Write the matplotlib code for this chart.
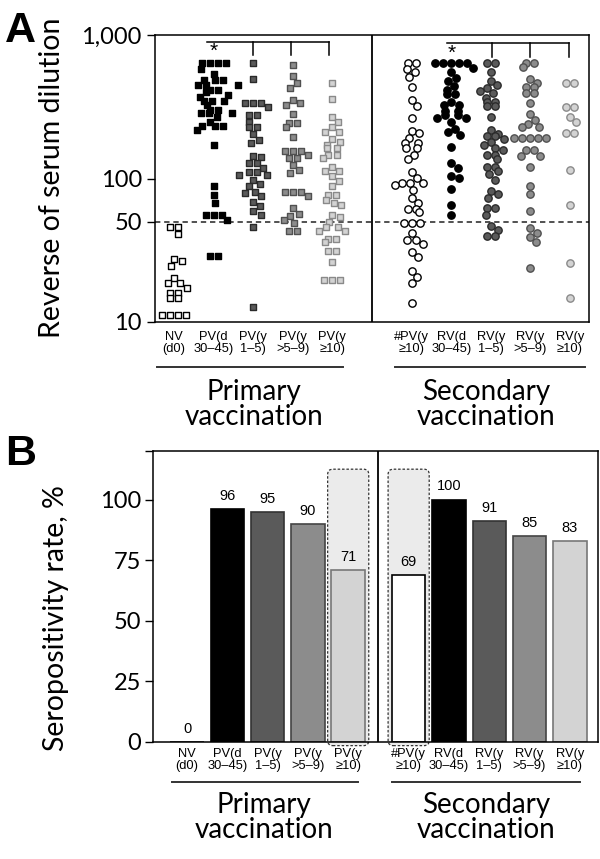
import numpy as np
import matplotlib
matplotlib.use("Agg")
import matplotlib.pyplot as plt
from matplotlib.patches import FancyBboxPatch
import matplotlib.transforms as mtransforms

# ---------------- data ----------------
primary_labels = ["NV\n(d0)", "PV(d\n30–45)", "PV(y\n1–5)", "PV(y\n>5–9)", "PV(y\n≥10)"]
secondary_labels = ["#PV(y\n≥10)", "RV(d\n30–45)", "RV(y\n1–5)", "RV(y\n>5–9)", "RV(y\n≥10)"]
primary_title = "Primary\nvaccination"
secondary_title = "Secondary\nvaccination"

titer_nv_d0 = [46, 46, 41, 27.5, 26.5, 24.5, 20.3, 18.6, 18.6, 17.3, 16, 16,
               14.7, 14.7, 11.1, 11.1, 11.1, 11.1]
titer_pv_d30_45 = [641, 641, 641, 641, 577, 535, 486, 486, 486, 449, 449, 449,
                   414, 414, 403, 382, 372, 349, 349, 349, 325, 300, 300, 285,
                   285, 285, 267, 249, 232, 232, 232, 218, 171, 88, 77, 68,
                   56, 56, 56, 51, 29, 29]
titer_pv_y1_5 = [641, 491, 334, 334, 334, 316, 277, 277, 249, 230, 230, 203,
                 185, 176, 144, 141, 128, 128, 119, 111, 111, 106, 106, 97.5,
                 91, 88, 81, 79, 75, 69, 64, 59, 56, 46, 12.8]
titer_pv_y5_9 = [618, 518, 465, 430, 352, 338, 325, 281, 242, 242, 227, 195,
                 155, 155, 155, 146, 140, 140, 124, 115, 110, 80, 80, 80, 75,
                 62, 57, 55, 51, 49, 43, 43]
titer_pv_y10 = [465, 356, 270, 249, 227, 212, 212, 187, 181, 171, 162, 162,
                146, 146, 138, 121, 113, 113, 104, 96.5, 88, 77, 77, 71, 68,
                65, 56, 54, 50, 46, 46, 43, 43, 38, 38, 36, 31, 31, 26,
                19.6, 19.6, 19.6]
titer_hpv_y10 = [641, 641, 576, 555, 507, 437, 352, 320, 262, 215, 206, 191,
                 178, 178, 162, 162, 146, 136, 111, 101, 93.6, 93.6, 93.6, 90,
                 83, 73, 67, 61, 61, 58, 49, 49, 49, 41.5, 37.3, 37.3, 35,
                 30.9, 28.5, 22.8, 20.7, 18.6, 13.6]
titer_rv_d30_45 = [641, 641, 641, 641, 641, 585, 555, 499, 481, 441, 414, 388,
                   388, 343, 325, 325, 296, 296, 275, 275, 262, 262, 249, 223,
                   212, 201, 167, 128, 119, 104, 101, 85, 65, 56]
titer_rv_y1_5 = [641, 641, 550, 481, 448, 430, 409, 392, 362, 343, 343, 320,
                 320, 267, 218, 204, 198, 198, 187, 181, 171, 162, 158, 146,
                 146, 136, 121, 121, 113, 107, 97.5, 82, 78, 73, 62, 62, 56,
                 47, 44, 40, 40]
titer_rv_y5_9 = [641, 641, 601, 491, 460, 437, 437, 396, 396, 334, 281, 255,
                 240, 227, 227, 191, 191, 191, 191, 191, 158, 158, 144, 144,
                 121, 89, 78, 59, 45, 42, 39, 36, 23.7]
titer_rv_y10 = [460, 460, 316, 316, 270, 249, 206, 206, 115, 65, 25.6, 14.6]

primary_titers = [titer_nv_d0, titer_pv_d30_45, titer_pv_y1_5, titer_pv_y5_9, titer_pv_y10]
secondary_titers = [titer_hpv_y10, titer_rv_d30_45, titer_rv_y1_5, titer_rv_y5_9, titer_rv_y10]

cutoff_titer = 50
yticks_a = [10, 50, 100, 1000]
yticklabels_a = ["10", "50", "100", "1,000"]

seropositivity_primary = [0, 96, 95, 90, 71]
seropositivity_secondary = [69, 100, 91, 85, 83]
yticks_b = [0, 25, 50, 75, 100, 120]
yticklabels_b = ["0", "25", "50", "75", "100", ""]

# ---------------- styles ----------------
W, H = 600, 859
fig = plt.figure(figsize=(6, 8.59), dpi=100)

def fx(px):
    return px / W

def fy(py):
    return 1 - py / H

fills = ["white", "black", "#5a5a5a", "#8c8c8c", "#d3d3d3"]
edges = ["black", "black", "#2a2a2a", "#505050", "#8a8a8a"]
BIG = "Lato"
SMALL = "Liberation Sans"

# ---------------- Panel A ----------------
axA = fig.add_axes([fx(155), fy(322), fx(589) - fx(155), (322 - 35) / H])
axA.set_yscale("log")
axA.set_ylim(10, 1000)
axA.set_xlim(-0.48, 10.48)
px_per_x = 39.6
px_per_dec = 143.5

def swarm(values, diam=7.8):
    yp = np.log10(np.asarray(values, float)) * px_per_dec
    order = np.argsort(-yp, kind="stable")
    placed = []
    off = np.zeros(len(yp))
    cands = [0.0]
    for k in range(1, 80):
        cands += [k * 0.5, -k * 0.5]
    for i in order:
        for dx in cands:
            if all((dx - a) ** 2 + (yp[i] - b) ** 2 >= diam ** 2 for a, b in placed):
                break
        placed.append((dx, yp[i]))
        off[i] = dx
    for v in np.unique(yp):
        idx = np.where(yp == v)[0]
        if len(idx) > 1:
            off[idx] -= off[idx].mean()
    return off / px_per_x

primary_pos = [0, 1, 2, 3, 4]
secondary_pos = [6, 7, 8, 9, 10]
for j, (pos, vals) in enumerate(zip(primary_pos, primary_titers)):
    xs = pos + swarm(vals)
    axA.scatter(xs, vals, s=22, marker="s", facecolor=fills[j], edgecolor=edges[j],
                linewidths=1.0, zorder=3, clip_on=False)
for j, (pos, vals) in enumerate(zip(secondary_pos, secondary_titers)):
    xs = pos + swarm(vals)
    axA.scatter(xs, vals, s=28, marker="o", facecolor=fills[j], edgecolor=edges[j],
                linewidths=1.0, zorder=3, clip_on=False)

axA.axhline(cutoff_titer, color="#222222", lw=1.1, ls=(0, (3.5, 2.5)), zorder=2)
axA.axvline(5, color="black", lw=1.3, zorder=2)

# significance brackets
bk = dict(color="black", lw=1.1, zorder=4)
axA.plot([0.83, 3.91], [893, 893], **bk)
for xv in [2.0, 2.95, 3.91]:
    axA.plot([xv, xv], [893, 726], **bk)
axA.plot([6.89, 9.97], [880, 880], **bk)
for xv in [8.03, 9.0, 9.97]:
    axA.plot([xv, xv], [880, 703], **bk)
axA.text(1, 770, "*", ha="center", va="center", fontsize=15, family=SMALL)
axA.text(7.02, 750, "*", ha="center", va="center", fontsize=15, family=SMALL)

axA.set_yticks(yticks_a)
axA.set_yticklabels(yticklabels_a)
axA.yaxis.set_minor_locator(matplotlib.ticker.NullLocator())
axA.set_xticks([])
axA.tick_params(axis="y", direction="out", length=5.5, width=1.0, pad=4,
                labelsize=17)
for t in axA.get_yticklabels():
    t.set_family(BIG)
for sp in axA.spines.values():
    sp.set_linewidth(1.1)

fig.text(fx(52), fy(178), "Reverse of serum dilution", rotation=90, ha="center",
         va="center", fontsize=20.5, family=BIG)
fig.text(fx(5), fy(11), "A", ha="left", va="top", fontsize=31, fontweight="bold",
         family=SMALL)

# category labels A
trA = mtransforms.blended_transform_factory(axA.transData, fig.transFigure)
for pos, lab in zip(primary_pos + secondary_pos, primary_labels + secondary_labels):
    axA.text(pos, fy(331), lab, transform=trA, ha="center", va="top", fontsize=9.3,
             family=SMALL, linespacing=1.0)

def group_line(x0, x1, y):
    fig.add_artist(plt.Line2D([fx(x0), fx(x1)], [fy(y), fy(y)], color="#333333",
                              lw=1.4, transform=fig.transFigure))

group_line(157, 343, 367)
group_line(395, 585, 367)
fig.text(fx(254), fy(379), primary_title, ha="center", va="top", fontsize=20,
         family=BIG, linespacing=0.95)
fig.text(fx(486), fy(379), secondary_title, ha="center", va="top", fontsize=20,
         family=BIG, linespacing=0.95)

# ---------------- Panel B ----------------
axB = fig.add_axes([fx(153), fy(742), fx(598) - fx(153), (742 - 451) / H])
px_b = 40.3
axB.set_xlim((153 - 187) / px_b, (598 - 187) / px_b)
axB.set_ylim(0, 120)

bpos_primary = [0, 1, 2, 3, 4]
bpos_secondary = [5.5, 6.5, 7.5, 8.5, 9.5]
bar_fill_sec = ["white", "black", "#5a5a5a", "#8c8c8c", "#d3d3d3"]
bar_edge = ["#222222", "black", "#333333", "#444444", "#777777"]

for xc in [bpos_primary[4], bpos_secondary[0]]:
    box = FancyBboxPatch((xc - 0.51, -1.5), 1.02, 114, boxstyle="round,pad=0,rounding_size=0.13",
                         mutation_aspect=16.5, facecolor="#ebebeb", edgecolor="#333333",
                         linestyle=(0, (2, 1.5)), linewidth=0.9, zorder=1, clip_on=False)
    axB.add_patch(box)

for j, (pos, val) in enumerate(zip(bpos_primary, seropositivity_primary)):
    axB.bar(pos, val, width=0.83, color=fills[j], edgecolor=bar_edge[j], linewidth=1.2, zorder=2)
    axB.text(pos, val + 2.5, f"{val}", ha="center", va="bottom", fontsize=10.5, family=SMALL)
for j, (pos, val) in enumerate(zip(bpos_secondary, seropositivity_secondary)):
    axB.bar(pos, val, width=0.83, color=bar_fill_sec[j], edgecolor=bar_edge[j] if j else "black",
            linewidth=1.2, zorder=2)
    axB.text(pos, val + 2.5, f"{val}", ha="center", va="bottom", fontsize=10.5, family=SMALL)

axB.axvline((378 - 187) / px_b, color="black", lw=1.3, zorder=3)
axB.set_yticks(yticks_b)
axB.set_yticklabels(yticklabels_b)
axB.set_xticks([])
axB.tick_params(axis="y", direction="out", length=5.5, width=1.0, pad=3, labelsize=17)
for t in axB.get_yticklabels():
    t.set_family(BIG)
for sp in axB.spines.values():
    sp.set_linewidth(1.1)
    sp.set_zorder(4)

fig.text(fx(56), fy(618), "Seropositivity rate, %", rotation=90, ha="center",
         va="center", fontsize=20.5, family=BIG)
fig.text(fx(5), fy(434), "B", ha="left", va="top", fontsize=31, fontweight="bold",
         family=SMALL)

trB = mtransforms.blended_transform_factory(axB.transData, fig.transFigure)
for pos, lab in zip(bpos_primary + bpos_secondary, primary_labels + secondary_labels):
    axB.text(pos, fy(748), lab, transform=trB, ha="center", va="top", fontsize=9.3,
             family=SMALL, linespacing=1.0)

group_line(172, 358, 782)
group_line(392, 580, 782)
fig.text(fx(264), fy(792), primary_title, ha="center", va="top", fontsize=20,
         family=BIG, linespacing=0.95)
fig.text(fx(486), fy(792), secondary_title, ha="center", va="top", fontsize=20,
         family=BIG, linespacing=0.95)

fig.savefig("out.png", dpi=100, facecolor="white")
